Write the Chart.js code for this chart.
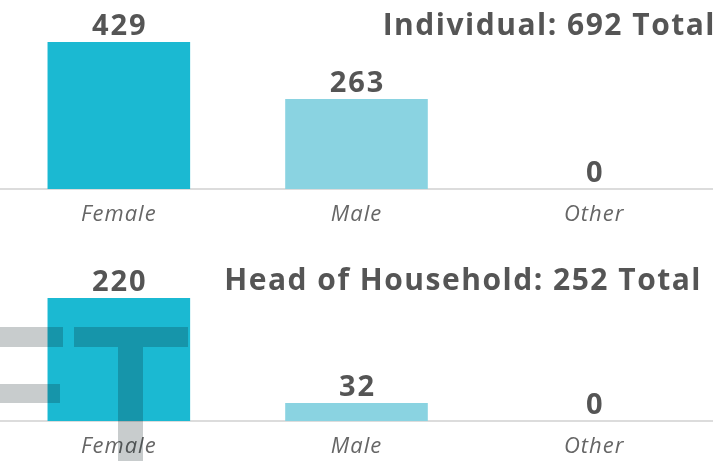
<!DOCTYPE html>
<html>
<head>
<meta charset="utf-8">
<script src="https://cdn.jsdelivr.net/npm/chart.js@4.4.0/dist/chart.umd.min.js"></script>
<style>
  html, body { margin: 0; padding: 0; background: #fff; overflow: hidden; }
  #wrap { position: relative; width: 713px; height: 461px; }
  .box { position: absolute; left: 0; width: 713px; height: 232px; }
  .wm { position: absolute; background: rgba(5, 23, 28, 0.22); z-index: 5; }
</style>
</head>
<body>
<div id="wrap">
  <div class="box" style="top:0"><canvas id="individualChart"></canvas></div>
  <div class="box" style="top:232px"><canvas id="headChart"></canvas></div>
  <!-- leftover bits of the "DRAFT" stamp -->
  <div class="wm" style="left:0;top:327px;width:63px;height:20px"></div>
  <div class="wm" style="left:74px;top:327px;width:114px;height:20px"></div>
  <div class="wm" style="left:118px;top:347px;width:25px;height:114px"></div>
  <div class="wm" style="left:0;top:384px;width:60px;height:19px"></div>
</div>
<script>
var categories = ['Female', 'Male', 'Other'];
var individualCounts = [429, 263, 0];
var headCounts = [220, 32, 0];
var individualTitle = 'Individual: 692 Total';
var headTitle = 'Head of Household: 252 Total';
var barColors = ['#1bb9d2', '#8ad3e1', '#8ad3e1'];

var textGray = '#555555';
var fontName = '"Open Sans"';

// a bit of tracking so Open Sans gets closer to the wider original face
var spacing = {
    id: 'spacing',
    beforeDraw: function (chart) { chart.ctx.letterSpacing = '1px'; }
};

// title drawn at the top right corner
var cornerTitle = {
    id: 'cornerTitle',
    afterDraw: function (chart, args, opts) {
        var ctx = chart.ctx;
        ctx.save();
        ctx.font = 'bold 30px ' + fontName;
        ctx.letterSpacing = '1.5px';
        ctx.fillStyle = textGray;
        ctx.textAlign = 'right';
        ctx.textBaseline = 'alphabetic';
        ctx.fillText(opts.text, opts.right, opts.baseline);
        ctx.restore();
    }
};

// value above each bar
var barValues = {
    id: 'barValues',
    afterDatasetsDraw: function (chart) {
        var ctx = chart.ctx;
        var ds = chart.data.datasets[0];
        ctx.save();
        ctx.font = 'bold 29px ' + fontName;
        ctx.letterSpacing = '2px';
        ctx.fillStyle = textGray;
        ctx.textAlign = 'center';
        ctx.textBaseline = 'alphabetic';
        chart.getDatasetMeta(0).data.forEach(function (bar, i) {
            ctx.fillText(ds.data[i], bar.x + 1, bar.y - 7);
        });
        ctx.restore();
    }
};

function makeChart(id, values, title, topPad, titleRight, titleBaseline) {
    var ctx = document.getElementById(id).getContext('2d');
    return new Chart(ctx, {
        type: 'bar',
        data: {
            labels: categories,
            datasets: [{
                data: values,
                backgroundColor: barColors,
                barPercentage: 0.6,
                categoryPercentage: 1.0
            }]
        },
        options: {
            responsive: true,
            maintainAspectRatio: false,
            animation: false,
            layout: { padding: { top: topPad, left: 0, right: 0, bottom: 0 } },
            plugins: {
                legend: { display: false },
                tooltip: { enabled: false },
                cornerTitle: { text: title, right: titleRight, baseline: titleBaseline }
            },
            scales: {
                x: {
                    grid: { display: false },
                    border: { display: true, color: '#dcdcdc', width: 2 },
                    ticks: {
                        color: '#666666',
                        font: { family: fontName, size: 22, style: 'italic' },
                        padding: 5
                    },
                    afterFit: function (s) { s.height = 43; }
                },
                y: {
                    display: false,
                    min: 0,
                    max: Math.max.apply(null, values)
                }
            }
        },
        plugins: [spacing, cornerTitle, barValues]
    });
}

makeChart('individualChart', individualCounts, individualTitle, 42, 716, 35);
makeChart('headChart', headCounts, headTitle, 66, 702, 58);
</script>
</body>
</html>
